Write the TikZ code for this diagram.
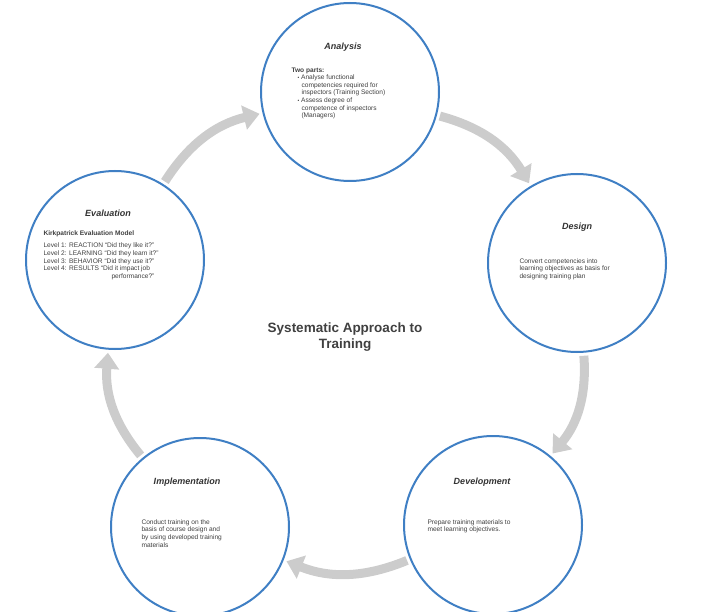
\documentclass[tikz,border=0pt]{standalone}
\usepackage{fontspec}
\setmainfont{Liberation Sans}
\usetikzlibrary{arrows.meta, positioning}
\definecolor{ringBlue}{HTML}{3F7FC4}

\begin{document}
\begin{tikzpicture}[
    x=1pt, y=-1pt,
    stage/.style = {draw=ringBlue, line width=2pt, circle, minimum size=178pt, inner sep=0pt, fill=white},
    stageText/.style = {font=\fontsize{6.6}{7.6}\selectfont, text=black!75, align=left},
    stageTitle/.style = {font=\itshape\bfseries\fontsize{9}{11}\selectfont, text=black!80},
    cycle/.style = {draw=black!20, line width=9pt, -{Triangle[length=16pt, width=24pt]}, shorten <=3pt, shorten >=3pt},
    auto
]
\useasboundingbox (0,0) rectangle (720,612);

\node(Analysis)[stage] at (350,92) {};
\node(Design)[stage] at (577,263) {};
\node(Development)[stage] at (493,525) {};
\node(Implementation)[stage] at (200,527) {};
\node(Evaluation)[stage] at (115,260) {};

\node(AnalysisTitle)[stageTitle] at (343,47) {Analysis};
\node(AnalysisText)[stageText, anchor=north west] at (288,64) {
    \textbf{Two parts:}\\
    \hspace{6pt}{\tiny\textbullet} Analyse functional\\
    \hspace{10pt}competencies required for\\
    \hspace{10pt}inspectors (Training Section)\\
    \hspace{6pt}{\tiny\textbullet} Assess degree of\\
    \hspace{10pt}competence of inspectors\\
    \hspace{10pt}(Managers)
};

\node(DesignTitle)[stageTitle] at (577,227) {Design};
\node(DesignText)[stageText, anchor=north west] at (516,255) {
    Convert competencies into\\
    learning objectives as basis for\\
    designing training plan
};

\node(DevelopmentTitle)[stageTitle] at (482,482) {Development};
\node(DevelopmentText)[stageText, anchor=north west] at (424,516) {
    Prepare training materials to\\
    meet learning objectives.
};

\node(ImplementationTitle)[stageTitle] at (187,482) {Implementation};
\node(ImplementationText)[stageText, anchor=north west] at (138,516) {
    Conduct training on the\\
    basis of course design and\\
    by using developed training\\
    materials
};

\node(EvaluationTitle)[stageTitle] at (108,213) {Evaluation};
\node(EvaluationText)[stageText, anchor=north west] at (40,227) {
    \textbf{Kirkpatrick Evaluation Model}\\[5pt]
    Level 1: REACTION ``Did they like it?''\\
    Level 2: LEARNING ``Did they learn it?''\\
    Level 3: BEHAVIOR ``Did they use it?''\\
    Level 4: RESULTS ``Did it impact job\\
    \hspace{68pt}performance?''
};

\node(Title)[font=\bfseries\fontsize{13.5}{16}\selectfont, text=black!75, align=center] at (345,337)
    {Systematic Approach to\\Training};

\draw[cycle] (Evaluation) to[bend left=22] (Analysis);
\draw[cycle] (Analysis) to[bend left=22] (Design);
\draw[cycle] (Design) to[bend left=22] (Development);
\draw[cycle] (Development) to[bend left=22] (Implementation);
\draw[cycle] (Implementation) to[bend left=22] (Evaluation);

\end{tikzpicture}
\end{document}
